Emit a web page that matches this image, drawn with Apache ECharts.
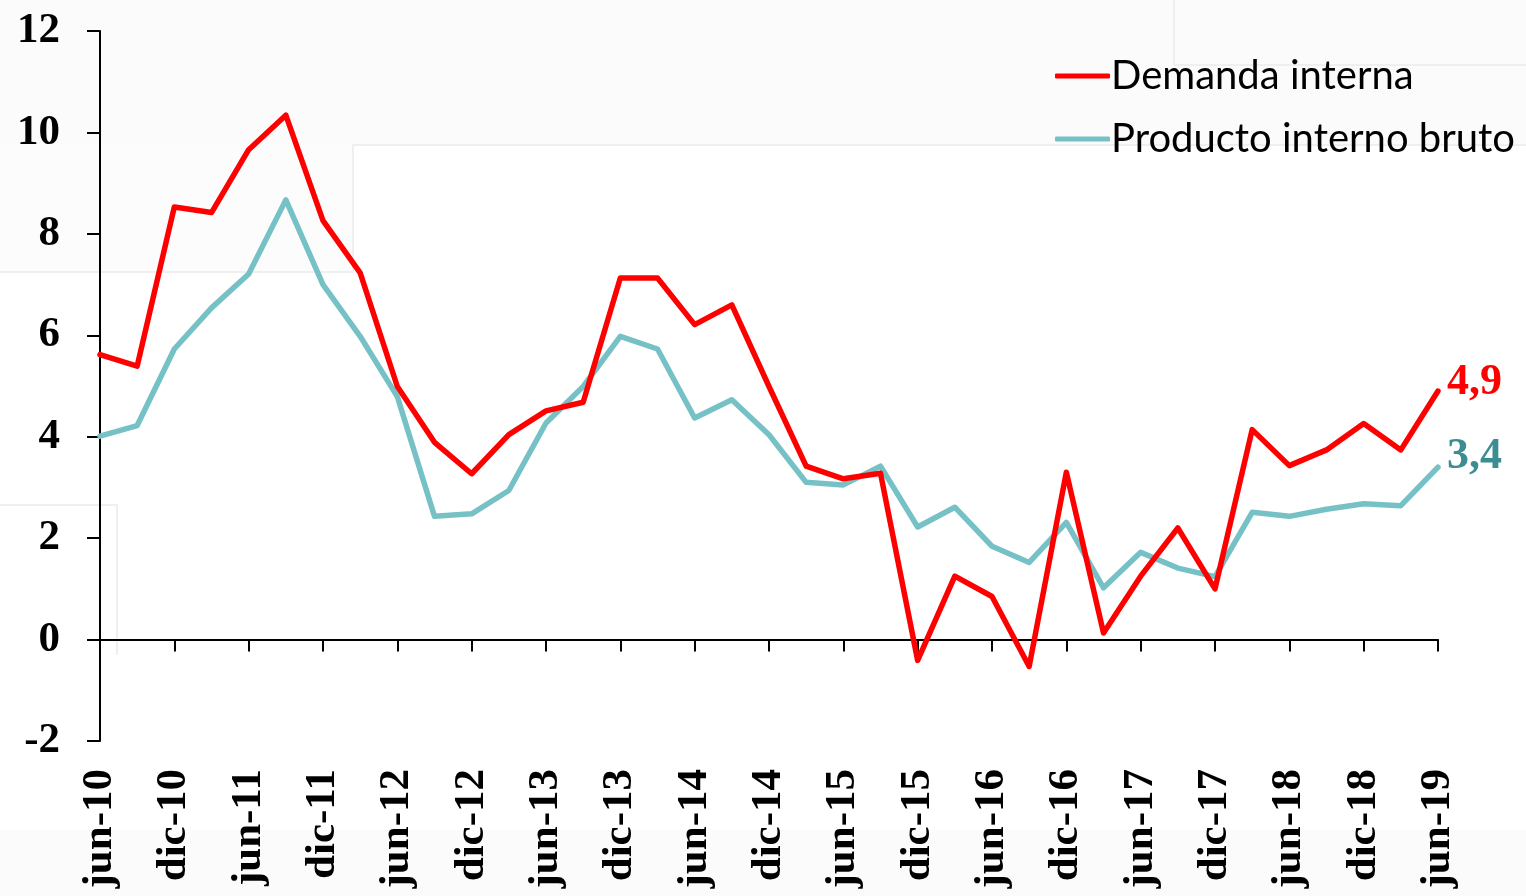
<!DOCTYPE html>
<html>
<head>
<meta charset="utf-8">
<script src="https://cdn.jsdelivr.net/npm/echarts@6/dist/echarts.min.js"></script>
<style>
  html, body { margin: 0; padding: 0; background: #fff; }
  #chart { width: 1526px; height: 896px; }
</style>
</head>
<body>
<div id="chart"></div>
<script>
// trimestres jun-10 .. jun-19
var quarters = [
  'jun-10','sep-10','dic-10','mar-11','jun-11','sep-11','dic-11','mar-12','jun-12','sep-12',
  'dic-12','mar-13','jun-13','sep-13','dic-13','mar-14','jun-14','sep-14','dic-14','mar-15',
  'jun-15','sep-15','dic-15','mar-16','jun-16','sep-16','dic-16','mar-17','jun-17','sep-17',
  'dic-17','mar-18','jun-18','sep-18','dic-18','mar-19','jun-19'
];

var demandaInterna = [
  5.62, 5.39, 8.53, 8.42, 9.66, 10.34, 8.26, 7.23, 4.99, 3.89,
  3.27, 4.04, 4.51, 4.68, 7.13, 7.13, 6.21, 6.60, 4.99, 3.42,
  3.17, 3.28, -0.41, 1.25, 0.85, -0.53, 3.30, 0.13, 1.25, 2.20,
  1.00, 4.14, 3.43, 3.74, 4.26, 3.74, 4.9
];

var pib = [
  4.01, 4.22, 5.73, 6.54, 7.21, 8.67, 7.00, 5.98, 4.79, 2.43,
  2.48, 2.94, 4.27, 4.99, 5.98, 5.73, 4.37, 4.73, 4.04, 3.10,
  3.05, 3.42, 2.22, 2.61, 1.84, 1.52, 2.31, 1.02, 1.72, 1.41,
  1.24, 2.51, 2.43, 2.57, 2.68, 2.64, 3.4
];

var yTicks = { min: -2, max: 12, step: 2 };

var serif = '"Liberation Serif", "Times New Roman", serif';
var fmtEnd = function (p) { return p.value.toFixed(1).replace('.', ','); };

var myChart = echarts.init(document.getElementById('chart'));

myChart.setOption({
  backgroundColor: '#fff',
  animation: false,
  // fondo con restos de la diapositiva
  graphic: [
    { type: 'rect', silent: true, z: -10, shape: { x: 0, y: 0, width: 1526, height: 145 }, style: { fill: '#fbfbfb' } },
    { type: 'rect', silent: true, z: -10, shape: { x: 0, y: 145, width: 353, height: 127 }, style: { fill: '#fcfcfc' } },
    { type: 'rect', silent: true, z: -10, shape: { x: 0, y: 830, width: 1526, height: 66 }, style: { fill: '#fbfbfb' } },
    { type: 'polyline', silent: true, z: -9, shape: { points: [[0, 272], [353, 272], [353, 145], [1526, 145]] }, style: { stroke: '#efefef', lineWidth: 2, fill: null } },
    { type: 'polyline', silent: true, z: -9, shape: { points: [[1174, 0], [1174, 65], [1526, 65]] }, style: { stroke: '#efefef', lineWidth: 2, fill: null } },
    { type: 'polyline', silent: true, z: -9, shape: { points: [[0, 505], [117, 505], [117, 655]] }, style: { stroke: '#efefef', lineWidth: 2, fill: null } }
  ],
  legend: {
    orient: 'vertical',
    left: 1050,
    top: 50,
    icon: 'roundRect',
    itemWidth: 55,
    itemHeight: 5,
    itemGap: 21,
    textStyle: { fontFamily: 'Lato, "Open Sans", sans-serif', fontSize: 40, lineHeight: 42, color: '#000', padding: [0, 0, 0, -4] },
    data: ['Demanda interna', 'Producto interno bruto']
  },
  grid: { left: 100, right: 88, top: 31, bottom: 155 },
  xAxis: [
    {
      type: 'category',
      data: quarters,
      boundaryGap: false,
      axisLine: { onZero: true, lineStyle: { color: '#000', width: 2 } },
      axisTick: { show: true, interval: 1, length: 12, lineStyle: { color: '#000', width: 2 } },
      axisLabel: { show: false }
    },
    {
      type: 'category',
      data: quarters,
      boundaryGap: false,
      position: 'bottom',
      axisLine: { show: false, onZero: false },
      axisTick: { show: false },
      axisLabel: {
        interval: 1,
        rotate: 90,
        margin: 28,
        fontFamily: serif,
        fontWeight: 'bold',
        fontSize: 43,
        color: '#000'
      }
    }
  ],
  yAxis: {
    type: 'value',
    min: yTicks.min,
    max: yTicks.max,
    interval: yTicks.step,
    splitLine: { show: false },
    axisLine: { show: true, lineStyle: { color: '#000', width: 2 } },
    axisTick: { show: true, length: 13, lineStyle: { color: '#000', width: 2 } },
    axisLabel: { margin: 40, fontFamily: serif, fontWeight: 'bold', fontSize: 43, color: '#000' }
  },
  series: [
    {
      name: 'Producto interno bruto',
      type: 'line',
      xAxisIndex: 0,
      data: pib,
      symbol: 'none',
      color: '#76c1c6',
      lineStyle: { color: '#76c1c6', width: 5.5, cap: 'round', join: 'round' },
      endLabel: {
        show: true,
        formatter: fmtEnd,
        distance: 9,
        offset: [0, -11],
        fontFamily: serif,
        fontWeight: 'bold',
        fontSize: 44,
        color: '#3b8d92'
      },
      z: 2
    },
    {
      name: 'Demanda interna',
      type: 'line',
      xAxisIndex: 0,
      data: demandaInterna,
      symbol: 'none',
      color: '#ff0000',
      lineStyle: { color: '#ff0000', width: 5.5, cap: 'round', join: 'round' },
      endLabel: {
        show: true,
        formatter: fmtEnd,
        distance: 9,
        offset: [0, -8],
        fontFamily: serif,
        fontWeight: 'bold',
        fontSize: 44,
        color: '#ff0000'
      },
      z: 3
    }
  ]
});
</script>
</body>
</html>
